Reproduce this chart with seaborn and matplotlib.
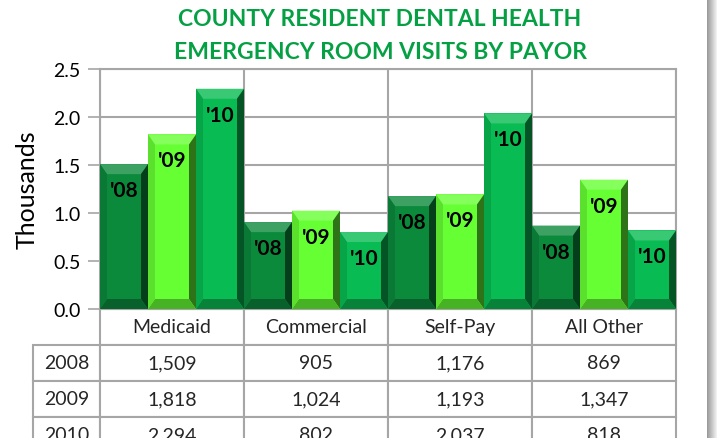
import numpy as np
import pandas as pd
import matplotlib
matplotlib.use("Agg")
import matplotlib.pyplot as plt
import matplotlib.colors as mcolors
from matplotlib.patches import Polygon
import seaborn as sns

# data (visits)
categories = ["Medicaid", "Commercial", "Self-Pay", "All Other"]
years = ["2008", "2009", "2010"]
year_tags = ["'08", "'09", "'10"]
v2008 = [1509, 905, 1176, 869]
v2009 = [1818, 1024, 1193, 1347]
v2010 = [2294, 802, 2037, 818]
yticks = [0.0, 0.5, 1.0, 1.5, 2.0, 2.5]

bar_colors = ["#0b8a3c", "#66ff33", "#08bb52"]
grid_col = "#a6a6a6"

df = pd.DataFrame({
    "payor": categories * 3,
    "year": [y for y in years for _ in categories],
    "visits": v2008 + v2009 + v2010,
})
df["thousands"] = df["visits"] / 1000.0

sns.set_theme(style="white")
plt.rcParams["font.family"] = ["Lato", "DejaVu Sans"]

fig = plt.figure(figsize=(7.17, 4.39), dpi=100)
ax = fig.add_axes([100/717, 1-310/439, 576/717, 240/439])

sns.barplot(data=df, x="payor", y="thousands", hue="year", order=categories,
            hue_order=years, palette=bar_colors, width=1.0, gap=0,
            saturation=1, linewidth=0, legend=False, ax=ax, zorder=3)

ax.set_xlim(-0.5, len(categories) - 0.5)
ax.set_ylim(0, 2.5)
ax.set_yticks(yticks)
ax.set_yticklabels(["%.1f" % t for t in yticks], fontsize=14, color="black")
ax.tick_params(axis="y", length=9, width=1.2, color=grid_col, pad=5, left=True)
ax.tick_params(axis="x", bottom=False, labelbottom=False)
ax.set_xlabel("")
ax.set_ylabel("Thousands", fontsize=18, color="black")
ax.yaxis.set_label_coords(-0.106, 0.5)

for t in yticks[1:]:
    ax.axhline(t, color=grid_col, lw=1.5, zorder=1)
for b in np.arange(-0.5, len(categories), 1.0):
    ax.axvline(b, color=grid_col, lw=1.5, zorder=1)
for s in ax.spines.values():
    s.set_color(grid_col)
    s.set_linewidth(1.5)

# bevel effect built from the bar patches
fig.canvas.draw()
inv = ax.transData.inverted()
p0 = inv.transform((0, 0))
p1 = inv.transform((7, 10))
bx, by = p1[0] - p0[0], p1[1] - p0[1]


def shade(c, f):
    r = np.array(mcolors.to_rgb(c))
    if f > 0:
        return tuple(r + (1 - r) * f)
    return tuple(r * (1 + f))


for i, bar in enumerate(list(ax.patches)):
    col = bar_colors[i // len(categories)]
    x0, w, h = bar.get_x(), bar.get_width(), bar.get_height()
    x1, y0, y1 = x0 + w, 0, h
    polys = [
        ([(x0, y1), (x1, y1), (x1 - bx, y1 - by), (x0 + bx, y1 - by)], shade(col, 0.2)),
        ([(x1, y1), (x1, y0), (x1 - bx, y0 + by), (x1 - bx, y1 - by)], shade(col, -0.55)),
        ([(x0, y0), (x1, y0), (x1 - bx, y0 + by), (x0 + bx, y0 + by)], shade(col, -0.3)),
        ([(x0, y0), (x0, y1), (x0 + bx, y1 - by), (x0 + bx, y0 + by)], shade(col, -0.12)),
    ]
    for pts, fc in polys:
        ax.add_patch(Polygon(pts, closed=True, facecolor=fc, edgecolor="none", zorder=4))
    ax.annotate(year_tags[i // len(categories)], (x0 + w / 2, h), xytext=(0, -26),
                textcoords="offset pixels", ha="center", va="center",
                fontsize=15, fontweight="bold", color="black", zorder=5)

# data table under the plot (first column holds the years)
cell_text = [[yr] + ["{:,}".format(v) for v in row]
             for yr, row in zip(years, (v2008, v2009, v2010))]
tbl = ax.table(cellText=cell_text, colLabels=[""] + categories,
               cellLoc="center", colLoc="center",
               colWidths=[67/643] + [144/643] * 4,
               bbox=[-67/576, -144/240, 643/576, 144/240])
tbl.auto_set_font_size(False)
tbl.set_fontsize(14)
for (r, c), cell in tbl.get_celld().items():
    cell.set_edgecolor(grid_col)
    cell.set_linewidth(1.5)
    if r == 0 and c == 0:
        cell.set_visible(False)

fig.text(380/717, 1-36/439, "COUNTY RESIDENT DENTAL HEALTH\nEMERGENCY ROOM VISITS BY PAYOR",
         ha="center", va="center", fontsize=16.5, fontweight="bold", color="#06a044",
         linespacing=1.7)

# soft shadow on the right edge
sax = fig.add_axes([707/717, 0, 10/717, 1])
grad = np.linspace(0.6, 0.95, 20).reshape(1, -1)
sax.imshow(grad, aspect="auto", cmap="gray", vmin=0, vmax=1, extent=[0, 1, 0, 1])
sax.axis("off")

fig.savefig("out.png", dpi=100)
